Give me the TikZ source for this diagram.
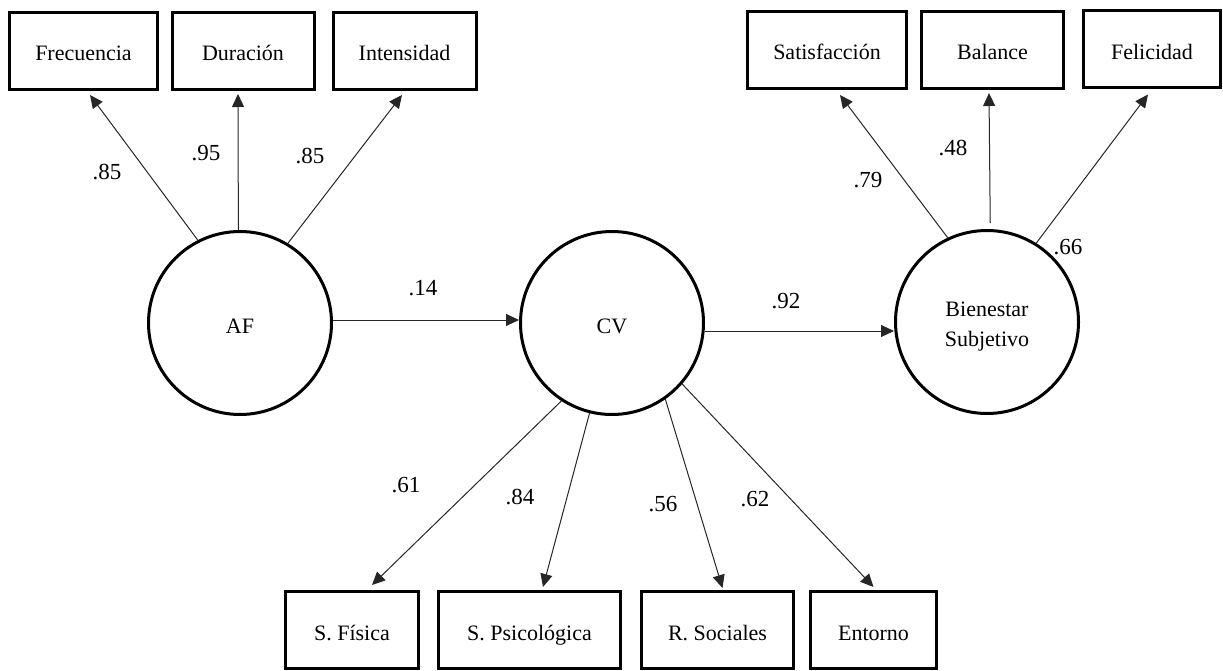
\documentclass[tikz,border=0pt]{standalone}
\usepackage{fontspec}
\setmainfont{Liberation Serif}
\usetikzlibrary{arrows.meta}
\begin{document}
\begin{tikzpicture}[x=1pt,y=-1pt,
  obs/.style={draw, line width=3pt, minimum height=77pt, inner sep=0pt,
    text height=20pt, text depth=0pt, font=\fontsize{22}{26}\selectfont},
  lat/.style={draw, circle, line width=3pt, minimum size=183pt, inner sep=0pt,
    font=\fontsize{22}{26}\selectfont},
  latlabel/.style={align=center, inner sep=0pt, font=\fontsize{22}{30}\selectfont},
  load/.style={line width=1pt, draw=black!85,
    -{Triangle[length=13pt,width=12pt]}},
  coef/.style={inner sep=0pt, font=\fontsize{23}{27}\selectfont}]
\useasboundingbox (0,0) rectangle (1223,671);

% latent variables
\node[lat, text height=20pt, text depth=0pt] (AF) at (240,323) {AF};
\node[lat, text height=20pt, text depth=0pt] (CV) at (612,323) {CV};
\node[lat] (BS) at (987,322) {};
\node[latlabel] (BStext) at ([yshift=-5pt]BS.center) {Bienestar\\Subjetivo};

% indicators of AF
\node[obs, minimum width=148pt] (frec)  at (83.5,51)  {Frecuencia};
\node[obs, minimum width=142pt] (dur)   at (243,51)   {Duración};
\node[obs, minimum width=143pt] (inten) at (404.5,51) {Intensidad};

% indicators of Bienestar Subjetivo
\node[obs, minimum width=159pt] (satis) at (827,50)    {Satisfacción};
\node[obs, minimum width=142pt] (bal)   at (992.5,50)  {Balance};
\node[obs, minimum width=137pt] (feli)  at (1152,49.5) {Felicidad};

% indicators of CV
\node[obs, minimum width=133pt] (sfis) at (352,630)   {S. Física};
\node[obs, minimum width=182pt] (spsi) at (529.5,630) {S. Psicológica};
\node[obs, minimum width=152pt] (rsoc) at (717.5,630) {R. Sociales};
\node[obs, minimum width=126pt] (ent)  at (873.5,630) {Entorno};

% structural paths
\draw[load] ([yshift=3pt]AF.east) -- ([yshift=3pt]CV.west);
\draw[load] ([yshift=-8pt]CV.east) -- ([yshift=-9pt]BS.west);

% loadings
\draw[load] (AF.117) -- ([xshift=6.5pt,yshift=-4pt]frec.south);
\draw[load] (AF.91)  -- ([xshift=-5pt,yshift=-3pt]dur.south);
\draw[load] (AF.59)  -- ([xshift=-2.5pt,yshift=-4pt]inten.south);

\draw[load] (BS.115) -- ([xshift=13pt,yshift=-5pt]satis.south);
\draw[load] ([yshift=6pt]BS.88) -- ([xshift=-3.5pt,yshift=-3pt]bal.south);
\draw[load] (BS.58)  -- ([xshift=-4pt,yshift=-5pt]feli.south);

\draw[load] (CV.-123.5) -- ([xshift=20pt,yshift=5pt]sfis.north);
\draw[load] (CV.-104.6) -- ([xshift=13.5pt,yshift=3pt]spsi.north);
\draw[load] (CV.-55.6)  -- ([xshift=5pt,yshift=2pt]rsoc.north);
\draw[load] (CV.-41.2)  -- ([yshift=3pt]ent.north);

% coefficients
\node[coef] (c1)  at (107,172) {.85};
\node[coef] (c2)  at (206,153) {.95};
\node[coef] (c3)  at (310,156) {.85};
\node[coef] (c4)  at (423,288) {.14};
\node[coef] (c5)  at (786,301) {.92};
\node[coef] (c6)  at (868,180) {.79};
\node[coef] (c7)  at (953,148) {.48};
\node[coef] (c8)  at (1068,247) {.66};
\node[coef] (c9)  at (406,485) {.61};
\node[coef] (c10) at (520,497) {.84};
\node[coef] (c11) at (663,504) {.56};
\node[coef] (c12) at (755,499) {.62};
\end{tikzpicture}
\end{document}
